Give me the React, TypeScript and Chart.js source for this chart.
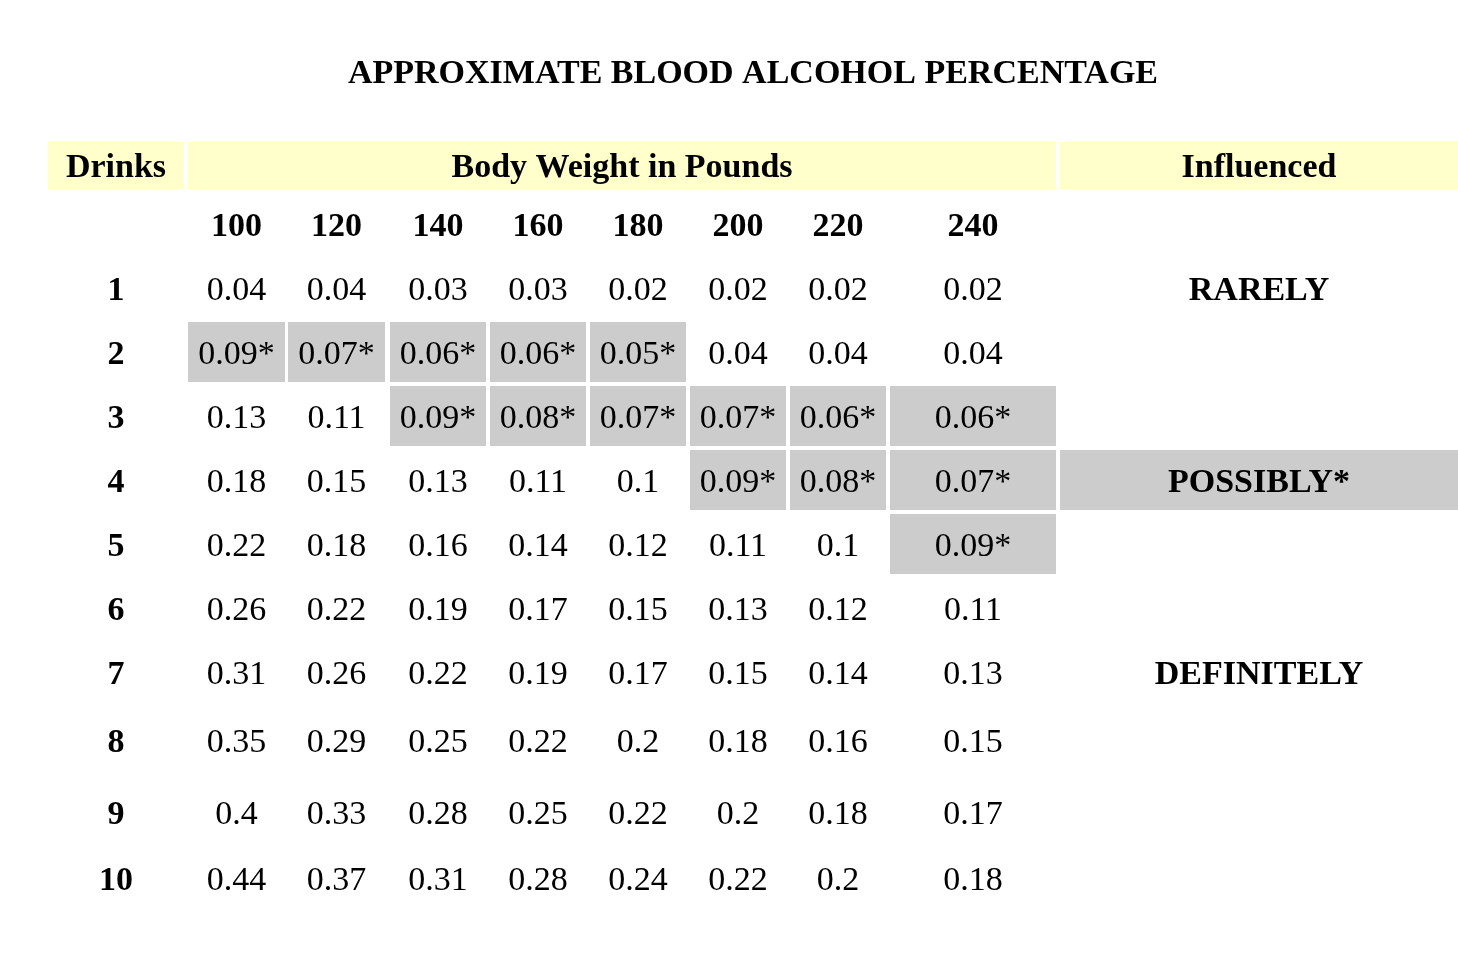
import React, { useEffect, useRef } from "react";
import { Chart, registerables } from "chart.js";

Chart.register(...registerables);

const TITLE = "APPROXIMATE BLOOD ALCOHOL PERCENTAGE";
const HEADER_DRINKS = "Drinks";
const HEADER_WEIGHT = "Body Weight in Pounds";
const HEADER_INFLUENCED = "Influenced";

const weights = ["100", "120", "140", "160", "180", "200", "220", "240"];
const drinks = ["1", "2", "3", "4", "5", "6", "7", "8", "9", "10"];

const bac1 = ["0.04", "0.04", "0.03", "0.03", "0.02", "0.02", "0.02", "0.02"];
const bac2 = ["0.09*", "0.07*", "0.06*", "0.06*", "0.05*", "0.04", "0.04", "0.04"];
const bac3 = ["0.13", "0.11", "0.09*", "0.08*", "0.07*", "0.07*", "0.06*", "0.06*"];
const bac4 = ["0.18", "0.15", "0.13", "0.11", "0.1", "0.09*", "0.08*", "0.07*"];
const bac5 = ["0.22", "0.18", "0.16", "0.14", "0.12", "0.11", "0.1", "0.09*"];
const bac6 = ["0.26", "0.22", "0.19", "0.17", "0.15", "0.13", "0.12", "0.11"];
const bac7 = ["0.31", "0.26", "0.22", "0.19", "0.17", "0.15", "0.14", "0.13"];
const bac8 = ["0.35", "0.29", "0.25", "0.22", "0.2", "0.18", "0.16", "0.15"];
const bac9 = ["0.4", "0.33", "0.28", "0.25", "0.22", "0.2", "0.18", "0.17"];
const bac10 = ["0.44", "0.37", "0.31", "0.28", "0.24", "0.22", "0.2", "0.18"];
const bacRows = [bac1, bac2, bac3, bac4, bac5, bac6, bac7, bac8, bac9, bac10];

const influenceRows = [0, 3, 6];
const influenceLabels = ["RARELY", "POSSIBLY*", "DEFINITELY"];
const influenceShaded = [false, true, false];

// ---- layout (scale units = canvas pixels) ----
const W = 1458;
const H = 960;
const colLeft = [188, 288, 390, 490, 590, 690, 790, 890];
const colRight = [285, 385, 486, 586, 686, 786, 886, 1056];
const drinksCol = [48, 184];
const weightSpan = [188, 1056];
const inflCol = [1060, 1458];
const headerRow = [142, 189];
const weightHeaderY = 225;
const rowCenters = [289, 353, 417, 481, 545, 609, 673, 741, 813, 879];
const rowTop = 31;
const rowBottom = 29;
const titleY = 72;

const YELLOW = "#FFFFCC";
const GRAY = "#CCCCCC";
const FONT = '"Liberation Serif", "Times New Roman", Times, serif';
const FS = 34;

const tablePlugin = {
  id: "tablePlugin",
  beforeDatasetsDraw(chart: any) {
    const ctx = chart.ctx;
    const xs = chart.scales.x;
    const ys = chart.scales.y;
    const px = (v: number) => xs.getPixelForValue(v);
    const py = (v: number) => ys.getPixelForValue(v);
    const rect = (x0: number, x1: number, y0: number, y1: number, c: string) => {
      ctx.fillStyle = c;
      const a = px(x0), b = px(x1), t = py(y0), u = py(y1);
      ctx.fillRect(Math.min(a, b), Math.min(t, u), Math.abs(b - a), Math.abs(u - t));
    };
    const text = (s: string, x: number, y: number, bold: boolean) => {
      ctx.font = `${bold ? "bold " : ""}${FS}px ${FONT}`;
      ctx.fillStyle = "#000";
      ctx.textAlign = "center";
      ctx.textBaseline = "alphabetic";
      ctx.fillText(s, px(x), py(y) + FS * 0.33);
    };
    ctx.save();
    ctx.fillStyle = "#fff";
    ctx.fillRect(0, 0, chart.width, chart.height);

    text(TITLE, (drinksCol[0] + inflCol[1]) / 2, titleY, true);

    rect(drinksCol[0], drinksCol[1], headerRow[0], headerRow[1], YELLOW);
    rect(weightSpan[0], weightSpan[1], headerRow[0], headerRow[1], YELLOW);
    rect(inflCol[0], inflCol[1], headerRow[0], headerRow[1], YELLOW);
    const hy = (headerRow[0] + headerRow[1]) / 2;
    text(HEADER_DRINKS, (drinksCol[0] + drinksCol[1]) / 2, hy, true);
    text(HEADER_WEIGHT, (weightSpan[0] + weightSpan[1]) / 2, hy, true);
    text(HEADER_INFLUENCED, (inflCol[0] + inflCol[1]) / 2, hy, true);

    weights.forEach((w, i) => text(w, (colLeft[i] + colRight[i]) / 2, weightHeaderY, true));

    bacRows.forEach((row, r) => {
      const cy = rowCenters[r];
      text(drinks[r], (drinksCol[0] + drinksCol[1]) / 2, cy, true);
      row.forEach((v, c) => {
        if (v.endsWith("*")) rect(colLeft[c], colRight[c], cy - rowTop, cy + rowBottom, GRAY);
        text(v, (colLeft[c] + colRight[c]) / 2, cy, false);
      });
    });

    influenceRows.forEach((r, i) => {
      const cy = rowCenters[r];
      if (influenceShaded[i]) rect(inflCol[0], inflCol[1], cy - rowTop, cy + rowBottom, GRAY);
      text(influenceLabels[i], (inflCol[0] + inflCol[1]) / 2, cy, true);
    });
    ctx.restore();
  },
};

export default function App() {
  const ref = useRef<HTMLCanvasElement>(null);
  useEffect(() => {
    document.body.style.margin = "0";
    const points: { x: number; y: number }[] = [];
    bacRows.forEach((row, r) =>
      row.forEach((_, c) => points.push({ x: (colLeft[c] + colRight[c]) / 2, y: rowCenters[r] }))
    );
    const chart = new Chart(ref.current!, {
      type: "scatter",
      data: {
        datasets: [
          {
            label: "BAC",
            data: points,
            pointRadius: 0,
            pointHoverRadius: 0,
          },
        ],
      },
      options: {
        responsive: false,
        maintainAspectRatio: false,
        animation: false,
        events: [],
        layout: { padding: 0 },
        plugins: { legend: { display: false }, tooltip: { enabled: false } },
        scales: {
          x: { type: "linear", min: 0, max: W, display: false },
          y: { type: "linear", min: 0, max: H, reverse: true, display: false },
        },
      },
      plugins: [tablePlugin],
    });
    return () => chart.destroy();
  }, []);
  return <canvas ref={ref} width={W} height={H} style={{ display: "block" }} />;
}
